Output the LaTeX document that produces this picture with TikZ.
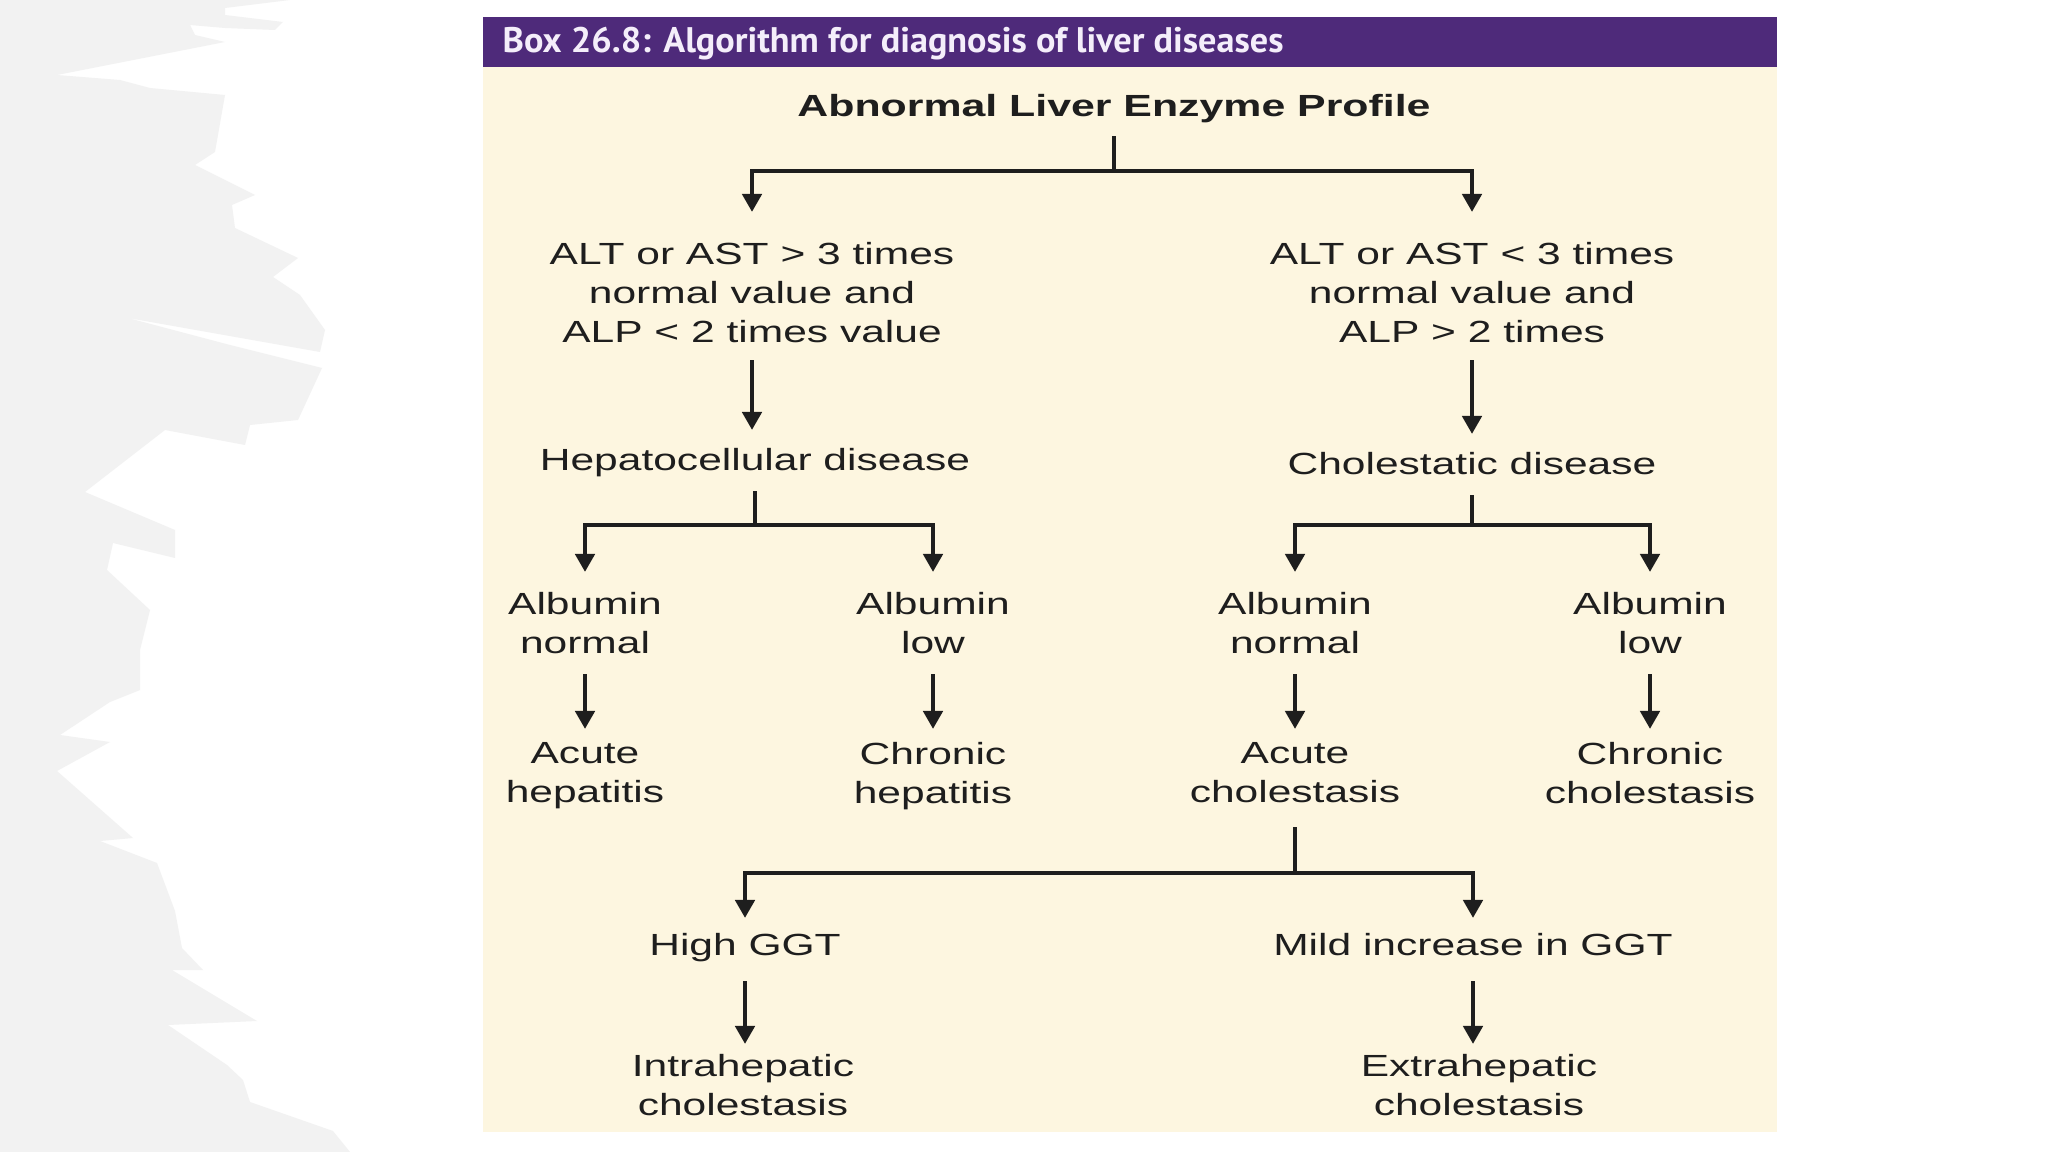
\documentclass[tikz,border=0pt]{standalone}
\usepackage{fontspec}
\setmainfont{Liberation Sans}[FakeStretch=1.39]
\newfontfamily\boxfont{PT Sans}[FakeStretch=1.02]
\newfontfamily\titlefont{Liberation Sans}[FakeStretch=1.4]
\usetikzlibrary{arrows.meta}
\definecolor{boxpurple}{HTML}{4E2A7A}
\definecolor{boxcream}{HTML}{FDF6E0}
\definecolor{boxtext}{HTML}{F4EEFA}
\definecolor{brushgrey}{HTML}{F2F2F2}
\definecolor{ink}{HTML}{1E1E1E}

\begin{document}
\begin{tikzpicture}[x=0.01cm,y=-0.01cm,
    lbl/.style={anchor=north,align=center,inner sep=0pt,text=ink,
        font=\fontsize{8.7}{11.06}\selectfont,
        execute at begin node=\strut,execute at end node=\strut},
    wire/.style={draw=ink,line width=0.045cm},
    arr/.style={wire,-{Triangle[width=0.19cm,length=0.18cm]}}]
    \useasboundingbox (0,0) rectangle (2048,1152);
    \fill[white] (0,0) rectangle (2048,1152);
    % brush strokes at the left
    \fill[brushgrey] (0,0) -- (290,0) -- (225,8) -- (225,15) -- (283,22) -- (275,30) -- (225,28)
        -- (190,25) -- (195,35) -- (225,42) -- (57,75) -- (120,80) -- (150,88) -- (225,95)
        -- (215,152) -- (195,165) -- (255,195) -- (232,205) -- (235,228) -- (298,258)
        -- (273,277) -- (300,295) -- (325,330) -- (320,352) -- (128,318) -- (230,345)
        -- (322,368) -- (298,420) -- (250,425) -- (245,445) -- (165,430) -- (85,492)
        -- (175,530) -- (175,558) -- (113,543) -- (107,570) -- (150,610) -- (140,650)
        -- (140,690) -- (110,702) -- (60,735) -- (110,742) -- (57,771) -- (133,838)
        -- (100,841) -- (157,863) -- (175,911) -- (182,948) -- (203,970) -- (172,970)
        -- (257,1021) -- (168,1025) -- (227,1065) -- (243,1080) -- (250,1102)
        -- (333,1131) -- (350,1152) -- (0,1152) -- cycle;
    % the box
    \fill[boxcream] (483,67) rectangle (1777,1132);
    \fill[boxpurple] (483,17) rectangle (1777,67);
    \node[anchor=base west,inner sep=0pt,text=boxtext,font=\boxfont\bfseries\fontsize{10.1}{12}\selectfont]
        (boxhead) at (502,53) {Box 26.8: Algorithm for diagnosis of liver diseases};

    \node[lbl,font=\titlefont\bfseries\fontsize{8.7}{11.06}\selectfont] (profile) at (1114,89) {Abnormal Liver Enzyme Profile};
    \node[lbl] (condA) at (752,242) {ALT or AST > 3 times\\normal value and\\ALP < 2 times value};
    \node[lbl] (condB) at (1472,242) {ALT or AST < 3 times\\normal value and\\ALP > 2 times};
    \node[lbl] (hepato) at (755,443) {Hepatocellular disease};
    \node[lbl] (cholest) at (1472,447) {Cholestatic disease};
    \node[lbl] (albNa) at (585,592) {Albumin\\normal};
    \node[lbl] (albLa) at (933,592) {Albumin\\low};
    \node[lbl] (albNb) at (1295,592) {Albumin\\normal};
    \node[lbl] (albLb) at (1650,592) {Albumin\\low};
    \node[lbl] (acuteHep) at (585,742) {Acute\\hepatitis};
    \node[lbl] (chronHep) at (933,742) {Chronic\\hepatitis};
    \node[lbl] (acuteChol) at (1295,742) {Acute\\cholestasis};
    \node[lbl] (chronChol) at (1650,742) {Chronic\\cholestasis};
    \node[lbl] (highGGT) at (745,928) {High GGT};
    \node[lbl] (mildGGT) at (1473,928) {Mild increase in GGT};
    \node[lbl] (intra) at (743,1054) {Intrahepatic\\cholestasis};
    \node[lbl] (extra) at (1479,1054) {Extrahepatic\\cholestasis};

    % splits
    \coordinate (s1) at (1114,171);
    \coordinate (s2) at (755,525);
    \coordinate (s3) at (1472,525);
    \coordinate (s4) at (1295,873);
    \draw[wire,shorten <=0.07cm] (profile.south) -- (s1);
    \draw[arr,shorten >=0.3cm] (s1) -| (condA.north);
    \draw[arr,shorten >=0.3cm] (s1) -| (condB.north);
    \draw[wire,shorten <=0.08cm] (hepato.south) -- (s2);
    \draw[arr,shorten >=0.2cm] (s2) -| (albNa.north);
    \draw[arr,shorten >=0.2cm] (s2) -| (albLa.north);
    \draw[wire,shorten <=0.08cm] (cholest.south) -- (s3);
    \draw[arr,shorten >=0.2cm] (s3) -| (albNb.north);
    \draw[arr,shorten >=0.2cm] (s3) -| (albLb.north);
    \draw[wire,shorten <=0.12cm] (acuteChol.south) -- (s4);
    \draw[arr,shorten >=0.1cm] (s4) -| (highGGT.north);
    \draw[arr,shorten >=0.1cm] (s4) -| (mildGGT.north);

    % straight arrows
    \draw[arr,shorten <=0.05cm,shorten >=0.13cm] (condA.south) -- (condA.south |- hepato.north);
    \draw[arr,shorten <=0.05cm,shorten >=0.13cm] (condB.south) -- (condB.south |- cholest.north);
    \foreach \a/\b in {albNa/acuteHep,albLa/chronHep,albNb/acuteChol,albLb/chronChol}
        \draw[arr,shorten <=0.08cm,shorten >=0.13cm] (\a.south) -- (\a.south |- \b.north);
    \draw[arr,shorten <=0.13cm,shorten >=0.1cm] (highGGT.south) -- (highGGT.south |- intra.north);
    \draw[arr,shorten <=0.13cm,shorten >=0.1cm] (mildGGT.south) -- (mildGGT.south |- extra.north);
\end{tikzpicture}
\end{document}
